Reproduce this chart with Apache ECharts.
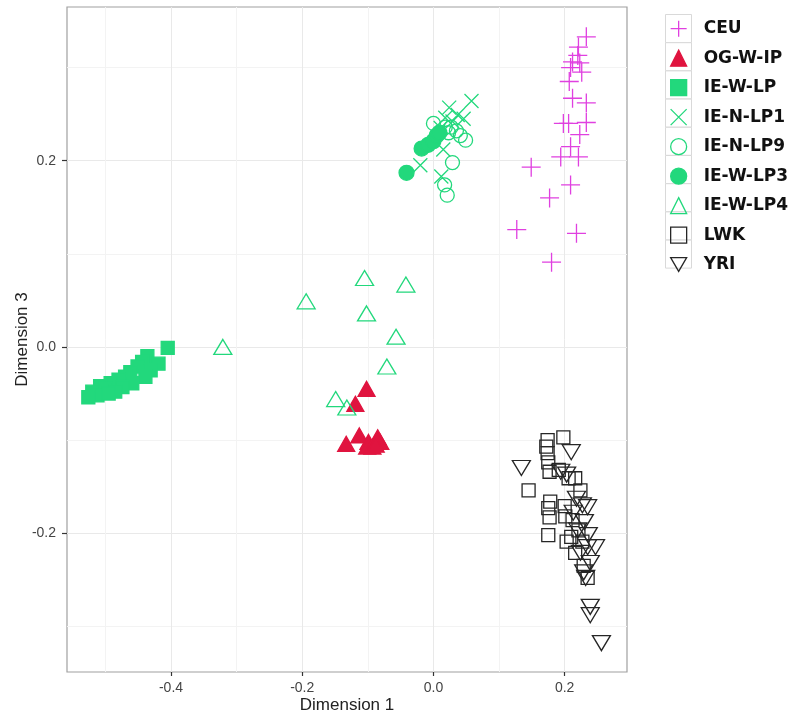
<!DOCTYPE html>
<html>
<head>
<meta charset="utf-8">
<script src="https://cdn.jsdelivr.net/npm/echarts@6/dist/echarts.min.js"></script>
<style>
  html, body { margin: 0; padding: 0; background: #fff; }
  #chart { width: 793px; height: 719px; }
</style>
</head>
<body>
<div id="chart"></div>
<script>
// axis ranges and tick values
var xRange = [-0.5585, 0.295];
var yRange = [-0.349, 0.365];
var xMajor = [-0.4, -0.2, 0, 0.2];
var xMinor = [-0.5, -0.3, -0.1, 0.1];
var yMajor = [-0.2, 0, 0.2];
var yMinor = [-0.3, -0.1, 0.1, 0.3];

// group names, in legend order
var groups = ["CEU", "OG-W-IP", "IE-W-LP", "IE-N-LP1", "IE-N-LP9", "IE-W-LP3", "IE-W-LP4", "LWK", "YRI"];

// points [Dimension 1, Dimension 3]
var ceu = [
  [0.233, 0.333], [0.221, 0.322], [0.220, 0.313], [0.212, 0.306], [0.223, 0.305],
  [0.209, 0.300], [0.226, 0.295], [0.207, 0.285], [0.212, 0.267], [0.233, 0.262],
  [0.198, 0.240], [0.206, 0.240], [0.233, 0.241], [0.223, 0.228], [0.209, 0.215],
  [0.194, 0.204], [0.221, 0.204], [0.149, 0.193], [0.209, 0.174], [0.177, 0.160],
  [0.127, 0.126], [0.218, 0.122], [0.180, 0.091]
];
var ogwip = [
  [-0.102, -0.045], [-0.119, -0.061], [-0.133, -0.104], [-0.113, -0.095], [-0.099, -0.102],
  [-0.085, -0.097], [-0.081, -0.102], [-0.101, -0.107], [-0.093, -0.107], [-0.088, -0.105]
];
var iewlp = [
  [-0.405, -0.001], [-0.436, -0.010], [-0.444, -0.016], [-0.419, -0.018], [-0.451, -0.021],
  [-0.431, -0.025], [-0.462, -0.027], [-0.470, -0.032], [-0.439, -0.032], [-0.480, -0.035],
  [-0.459, -0.039], [-0.492, -0.039], [-0.474, -0.043], [-0.508, -0.042], [-0.500, -0.045],
  [-0.520, -0.048], [-0.485, -0.048], [-0.512, -0.052], [-0.526, -0.054], [-0.495, -0.050]
];
var ienlp1 = [
  [0.058, 0.264], [0.024, 0.257], [0.037, 0.249], [0.046, 0.245], [0.029, 0.242],
  [0.018, 0.246], [0.011, 0.235], [-0.020, 0.195], [0.012, 0.183], [0.015, 0.212]
];
var ienlp9 = [
  [0.000, 0.240], [0.018, 0.236], [0.027, 0.236], [0.035, 0.232], [0.041, 0.227],
  [0.049, 0.222], [0.023, 0.230], [0.029, 0.198], [0.017, 0.174], [0.021, 0.163]
];
var iewlp3 = [
  [-0.041, 0.187], [-0.018, 0.213], [-0.008, 0.217], [0.000, 0.221], [0.005, 0.227], [0.009, 0.230]
];
var iewlp4 = [
  [-0.321, 0.000], [-0.194, 0.049], [-0.105, 0.074], [-0.042, 0.067], [-0.102, 0.036],
  [-0.057, 0.011], [-0.071, -0.021], [-0.149, -0.056], [-0.132, -0.065]
];
var lwk = [
  [0.174, -0.100], [0.198, -0.097], [0.172, -0.107], [0.174, -0.114], [0.175, -0.124],
  [0.177, -0.134], [0.145, -0.154], [0.206, -0.141], [0.216, -0.141], [0.224, -0.154],
  [0.178, -0.166], [0.175, -0.173], [0.177, -0.183], [0.200, -0.171], [0.201, -0.182],
  [0.175, -0.202], [0.203, -0.209], [0.221, -0.197], [0.210, -0.204], [0.227, -0.209],
  [0.216, -0.221], [0.229, -0.235], [0.235, -0.248], [0.191, -0.132], [0.212, -0.186]
];
var yri = [
  [0.134, -0.130], [0.210, -0.113], [0.194, -0.134], [0.203, -0.137], [0.218, -0.163],
  [0.235, -0.172], [0.227, -0.170], [0.220, -0.197], [0.236, -0.202], [0.247, -0.215],
  [0.235, -0.215], [0.224, -0.221], [0.239, -0.232], [0.229, -0.242], [0.232, -0.248],
  [0.239, -0.279], [0.239, -0.288], [0.256, -0.318], [0.213, -0.178], [0.230, -0.188]
];

var MAGENTA = "#e040e0";
var RED = "#e0143f";
var GREEN = "#22d87c";
var BLACK = "#262626";
var NONE = "rgba(0,0,0,0)";

var PLUS = "path://M0,5L10,5M5,0L5,10";
var CROSS = "path://M0,0L10,10M10,0L0,10";
var TRI_DOWN = "path://M0,0L10,0L5,8.66Z";

function scatter(name, data, symbol, size, fill, stroke) {
  return {
    name: name,
    type: "scatter",
    data: data,
    symbol: symbol,
    symbolSize: size,
    symbolKeepAspect: false,
    itemStyle: { color: fill, borderColor: stroke, borderWidth: 1.3, opacity: 1 },
    emphasis: { disabled: true }
  };
}

function tickText(v) {
  return (Math.abs(v) < 1e-9 ? 0 : v).toFixed(1);
}

var chart = echarts.init(document.getElementById("chart"));

// legend key boxes
var keyBoxes = groups.map(function (g, i) {
  return {
    type: "rect",
    left: 665,
    top: 14 + i * 28.2,
    shape: { width: 26, height: 28 },
    style: { fill: "#fff", stroke: "#d9d9d9", lineWidth: 1 },
    z: 0
  };
});

var option = {
  animation: false,
  backgroundColor: "#fff",
  grid: {
    left: 67, right: 166, top: 7, bottom: 47,
    outerBoundsMode: "none",
    containLabel: false,
    show: true, borderColor: "#a0a0a0", borderWidth: 1.2, backgroundColor: "#fff"
  },
  graphic: keyBoxes,
  legend: {
    orient: "vertical",
    left: 670,
    top: 20,
    padding: 0,
    itemWidth: 16,
    itemHeight: 16,
    itemGap: 12.2,
    data: groups,
    itemStyle: { borderWidth: 1.3 },
    selectedMode: false,
    textStyle: {
      fontFamily: "DejaVu Sans",
      fontWeight: "bold",
      fontSize: 17,
      color: "#111",
      padding: [0, 0, 0, 12]
    }
  },
  xAxis: [
    {
      type: "value", min: xRange[0], max: xRange[1], position: "bottom",
      name: "Dimension 1", nameLocation: "middle", nameGap: 25, nameMoveOverlap: false,
      nameTextStyle: { fontFamily: "Liberation Sans", fontSize: 17, color: "#222" },
      axisLine: { show: false, onZero: false },
      axisTick: { show: true, length: 4, customValues: xMajor, lineStyle: { color: "#333", width: 1.2 } },
      axisLabel: {
        customValues: xMajor, margin: 9, formatter: tickText,
        fontFamily: "Liberation Sans", fontSize: 14, color: "#444"
      },
      splitLine: { show: true, lineStyle: { color: "#e9e9e9", width: 1 } }
    },
    {
      type: "value", min: xRange[0], max: xRange[1], position: "top",
      axisLine: { show: false, onZero: false },
      axisTick: { show: false, customValues: xMinor },
      axisLabel: { show: false },
      splitLine: { show: true, lineStyle: { color: "#f3f3f3", width: 1 } }
    }
  ],
  yAxis: [
    {
      type: "value", min: yRange[0], max: yRange[1], position: "left",
      name: "Dimension 3", nameLocation: "middle", nameGap: 36, nameRotate: 90, nameMoveOverlap: false,
      nameTextStyle: { fontFamily: "Liberation Sans", fontSize: 17, color: "#222" },
      axisLine: { show: false, onZero: false },
      axisTick: { show: true, length: 5, customValues: yMajor, lineStyle: { color: "#333", width: 1.2 } },
      axisLabel: {
        customValues: yMajor, margin: 11, formatter: tickText,
        fontFamily: "Liberation Sans", fontSize: 14, color: "#444"
      },
      splitLine: { show: true, lineStyle: { color: "#e9e9e9", width: 1 } }
    },
    {
      type: "value", min: yRange[0], max: yRange[1], position: "right",
      axisLine: { show: false, onZero: false },
      axisTick: { show: false, customValues: yMinor },
      axisLabel: { show: false },
      splitLine: { show: true, lineStyle: { color: "#f3f3f3", width: 1 } }
    }
  ],
  series: [
    scatter("CEU", ceu, PLUS, 19, MAGENTA, MAGENTA),
    scatter("OG-W-IP", ogwip, "triangle", [17, 15], RED, RED),
    scatter("IE-W-LP", iewlp, "rect", 13, GREEN, GREEN),
    scatter("IE-N-LP1", ienlp1, CROSS, 14, GREEN, GREEN),
    scatter("IE-N-LP9", ienlp9, "circle", 14, NONE, GREEN),
    scatter("IE-W-LP3", iewlp3, "circle", 15, GREEN, GREEN),
    scatter("IE-W-LP4", iewlp4, "triangle", [18, 15], NONE, GREEN),
    scatter("LWK", lwk, "rect", 13, NONE, BLACK),
    scatter("YRI", yri, TRI_DOWN, [18, 15], NONE, BLACK)
  ]
};

chart.setOption(option);
</script>
</body>
</html>
